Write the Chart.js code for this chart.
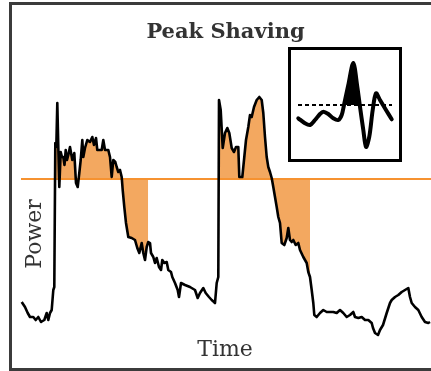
<!DOCTYPE html>
<html><head><meta charset="utf-8">
<script src="https://cdn.jsdelivr.net/npm/chart.js@4.4.1/dist/chart.umd.min.js"></script>
<style>
html,body{margin:0;padding:0;background:#fff;width:431px;height:371px;overflow:hidden;position:relative;}
.bar{position:absolute;background:#3b3b3b;}
#frameL{left:9px;top:2px;width:3px;height:369px;}
#frameT{left:9px;top:2px;width:422px;height:3px;}
#frameB{left:9px;top:368px;width:422px;height:3px;}
#main{position:absolute;left:12px;top:5px;width:419px;height:363px;}
.lbl{position:absolute;font-family:"DejaVu Serif",serif;color:#333;white-space:nowrap;text-align:center;z-index:3;}
#title{left:16px;width:419px;top:20px;font-weight:bold;font-size:21px;line-height:21px;}
#xlabel{left:125px;width:200px;top:338px;font-size:22px;line-height:22px;}
#ylabel{left:-16px;width:100px;top:223px;height:22px;font-size:22px;line-height:22px;transform:rotate(-90deg);transform-origin:50% 50%;}
#inset{position:absolute;left:288px;top:47px;width:108px;height:109px;border:3px solid #000;background:#fff;z-index:2;}
#insetBox{position:absolute;left:0;top:0;width:108px;height:109px;}
</style></head>
<body>
<div class="bar" id="frameL"></div>
<div class="bar" id="frameT"></div>
<div class="bar" id="frameB"></div>
<div id="main"><canvas id="c"></canvas></div>
<div class="lbl" id="title">Peak Shaving</div>
<div class="lbl" id="xlabel">Time</div>
<div class="lbl" id="ylabel">Power</div>
<div id="inset"><div id="insetBox"><canvas id="c2"></canvas></div></div>
<script>
// ---- main series: load profile (time units, power units) ----
const time = [9.7,13,15.7,18,21.3,23.7,26.3,29,32.3,34.7,36.3,38,39.7,41.3,42.3,43.3,44.3,45.3,46.3,47.3,
  48.7,50,51.3,52.5,53.7,55,56.3,58,60.3,62.3,64,65.7,67.3,68.7,70.3,71.3,73,75.3,78,80.3,
  82,84,85.3,87.3,89.7,91.3,93,96.3,98,99.7,101.3,103.3,104.7,106.3,108,109.7,110.7,112.3,114,116.3,
  119.7,123,125.3,127.3,129.7,131.3,133,134.7,136.3,138,139,141.3,143,144.7,147,149,150.3,152.3,154.7,156.3,
  159,160.3,163,165.7,167,169,173,178,183,185.7,188,191.3,193.7,197,199.7,202,203,204.7,206.3,207,
  208.7,210.7,213,215.3,217.3,219.7,222,224,226.3,227.3,230.3,232.3,234,236.3,238,239.7,242,244.7,247.3,249.7,
  251.3,253,254.7,256.3,258,259.7,261.3,263,264.7,266.3,268,269.7,272.3,274.7,276.3,278,279.7,281.3,283.7,286.3,
  288,291.3,294.7,296.3,298,299.7,301.3,302.3,304.7,308,311.3,314.7,318,321.3,324.7,328,331.3,334.7,338,341.3,
  343,346.3,349.7,353,356.3,359.7,361,363,366,368,371,374.7,378,379.7,383,386.3,389.7,393,396.3,398,
  399.7,403,406.3,409.7,413,416.3,418];
const power = [38,33,27,23,23,20,23,18,20,27,20,27,30,50,53,197,193,237,193,153,
  188,183,183,175,190,180,185,193,180,187,157,153,167,180,200,183,192,200,198,203,
  195,202,190,190,190,200,190,190,183,163,180,178,173,168,170,163,150,133,117,103,
  102,100,92,87,97,87,80,93,98,97,87,83,77,82,73,70,80,77,78,70,
  68,63,57,50,43,57,55,53,50,42,47,52,47,43,40,38,37,57,63,240,
  230,192,207,212,207,192,188,193,193,163,163,183,200,213,225,223,233,240,243,240,
  227,203,183,173,168,162,153,143,133,123,117,97,95,102,112,100,98,100,95,97,
  90,83,77,68,63,50,37,25,23,27,30,28,28,28,27,30,27,23,25,28,
  23,22,23,20,20,17,12,7,5,10,15,27,37,40,43,45,48,50,52,43,
  37,33,30,23,18,17,18];
const peakLimit = 161;
const limitSpan = [9, 419];
const shavingWindows = [[108, 136.3], [259.7, 298]];

// ---- inset series ----
const insetTime = [7.3,14,19,24,29,32.3,37.3,42.3,47.3,50.7,53,57.3,62.3,66.3,69,72.3,75,78.3,81.7,85,89,95,100.7];
const insetLoad = [40.7,35.7,34,39,45,47.3,45,40.7,39,44,54,74,96,72.3,52.3,29,12,22.3,49,65.7,59,49,39.7];
const insetLimit = 54;
const insetLimitSpan = [7, 101];
const insetPeakWindow = [53, 69];

const orangeLine = 'rgb(246,146,48)';
const orangeFill = 'rgb(243,168,96)';

const loadPts = time.map((t, i) => ({x: t, y: power[i]}));
const windowSets = shavingWindows.map(([a, b]) => ({
  data: loadPts.filter(p => p.x >= a && p.x <= b),
  borderWidth: 0, borderColor: 'transparent', pointRadius: 0, order: 2,
  fill: {target: {value: peakLimit}, above: 'transparent', below: orangeFill}
}));

new Chart(document.getElementById('c'), {
  type: 'line',
  data: {
    datasets: [
      {data: loadPts, borderColor: '#000', borderWidth: 2.6, pointRadius: 0, order: 0,
       borderJoinStyle: 'round', tension: 0,
       fill: {target: {value: peakLimit}, above: orangeFill, below: 'transparent'}},
      {data: limitSpan.map(x => ({x, y: peakLimit})), borderColor: orangeLine, borderWidth: 2,
       pointRadius: 0, order: 1, fill: false},
      ...windowSets
    ]
  },
  options: {
    responsive: true, maintainAspectRatio: false, animation: false, devicePixelRatio: 1,
    layout: {padding: 0},
    plugins: {legend: {display: false}, tooltip: {enabled: false}, title: {display: false},
      filler: {drawTime: 'beforeDatasetsDraw'}},
    scales: {
      x: {type: 'linear', min: 0, max: 419, display: false},
      y: {min: -28, max: 335, display: false}
    }
  }
});

const insetPts = insetTime.map((t, i) => ({x: t, y: insetLoad[i]}));
new Chart(document.getElementById('c2'), {
  type: 'line',
  data: {
    datasets: [
      {data: insetPts, borderColor: '#000', borderWidth: 4, pointRadius: 0, tension: 0.3,
       borderCapStyle: 'round', borderJoinStyle: 'round', order: 0, fill: false},
      {data: insetLimitSpan.map(x => ({x, y: insetLimit})), borderColor: '#000', borderWidth: 2,
       borderDash: [4, 3], pointRadius: 0, order: 1, fill: false},
      {data: insetPts.filter(p => p.x >= insetPeakWindow[0] && p.x <= insetPeakWindow[1]),
       borderWidth: 0, borderColor: 'transparent', pointRadius: 0, tension: 0.3, order: 2,
       fill: {target: {value: insetLimit}, above: '#000', below: 'transparent'}}
    ]
  },
  options: {
    responsive: true, maintainAspectRatio: false, animation: false, devicePixelRatio: 1,
    layout: {padding: 0},
    plugins: {legend: {display: false}, tooltip: {enabled: false}, filler: {drawTime: 'beforeDatasetsDraw'}},
    scales: {
      x: {type: 'linear', min: 0, max: 108, display: false},
      y: {min: 0, max: 109, display: false}
    }
  }
});
</script>
</body></html>
